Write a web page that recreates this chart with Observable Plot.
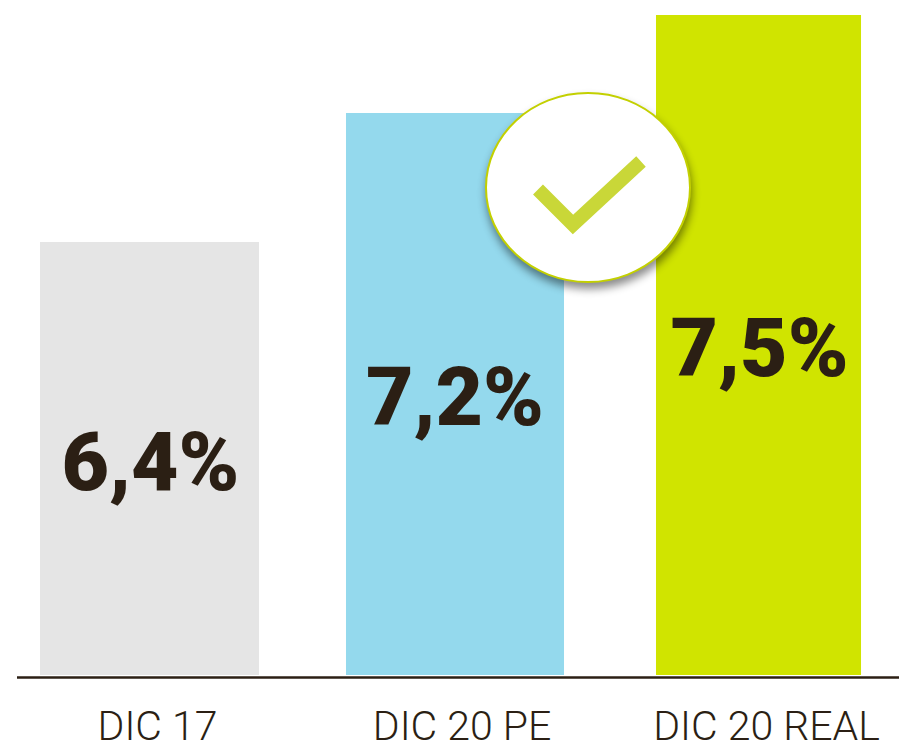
<!DOCTYPE html>
<html>
<head>
<meta charset="utf-8">
<script src="https://cdn.jsdelivr.net/npm/d3@7"></script>
<script src="https://cdn.jsdelivr.net/npm/@observablehq/plot@0.6"></script>
<style>
  html, body { margin: 0; padding: 0; background: #fff; }
  svg { display: block; }
  .badge { filter: drop-shadow(1px 6px 4px rgba(0,0,0,.45)); }
</style>
</head>
<body>
<div id="chart"></div>
<script>
const categories = ["DIC 17", "DIC 20 PE", "DIC 20 REAL"];
const values = [6.4, 7.2, 7.5];
const valueLabels = ["6,4%", "7,2%", "7,5%"];
const barColors = ["#e5e5e5", "#94d9ed", "#d0e400"];
// Height on the value axis where each label sits inside its bar
const labelHeights = [3.13, 4.09, 4.82];

const ink = "#2b1f14";
const rows = categories.map((c, i) => ({
  category: c, value: values[i], label: valueLabels[i],
  color: barColors[i], labelAt: labelHeights[i]
}));

// Filled ellipse and tick glyphs for the badge
function ellipseSymbol(rx, ry) {
  const k = 0.5523;
  return { draw(c) {
    c.moveTo(-rx, 0);
    c.bezierCurveTo(-rx, -k*ry, -k*rx, -ry, 0, -ry);
    c.bezierCurveTo(k*rx, -ry, rx, -k*ry, rx, 0);
    c.bezierCurveTo(rx, k*ry, k*rx, ry, 0, ry);
    c.bezierCurveTo(-k*rx, ry, -rx, k*ry, -rx, 0);
    c.closePath();
  }};
}
const tickSymbol = { draw(c) {
  c.moveTo(-50, 2); c.lineTo(-15, 37); c.lineTo(53, -26);
}};
const badgeAt = [{ category: "DIC 20 PE", value: 7.2 }];
const badgeOffset = { dx: 133, dy: 74 };

const chart = Plot.plot({
  width: 899,
  height: 750,
  marginTop: 0,
  marginRight: 0,
  marginBottom: 75,
  marginLeft: 17,
  style: { background: "#fff", overflow: "hidden" },
  x: { type: "band", domain: categories, range: [-45.5, 954.5], padding: 0.284, round: false, axis: null },
  y: { type: "linear", domain: [0, 6.4, 7.2, 7.5], range: [675, 242, 113, 15], axis: null },
  marks: [
    Plot.barY(rows.slice(0, 1), { x: "category", y: "value", fill: "color", insetLeft: -1 }),
    Plot.barY(rows.slice(1, 2), { x: "category", y: "value", fill: "color", dx: 0.5 }),
    Plot.barY(rows.slice(2), { x: "category", y: "value", fill: "color", insetLeft: 6, insetRight: 7 }),
    Plot.ruleY([0], { dy: 2, stroke: ink, strokeWidth: 2.6 }),
    Plot.axisX({
      anchor: "bottom", tickSize: 0, tickPadding: 35, dx: 7, label: null,
      fontSize: 41, fontWeight: 300, fontFamily: "Roboto", fill: ink
    }),
    Plot.text(rows, {
      x: "category", y: "labelAt", text: "label", fill: ink,
      fontSize: 82, fontWeight: 900, fontFamily: "Roboto", lineAnchor: "middle"
    }),
    Plot.dot(badgeAt, {
      x: "category", y: "value", ...badgeOffset, symbol: ellipseSymbol(102, 94.5),
      fill: "#fff", stroke: "#c3d000", strokeWidth: 2, className: "badge"
    }),
    Plot.dot(badgeAt, {
      x: "category", y: "value", ...badgeOffset, symbol: tickSymbol,
      fill: "none", stroke: "#c9d738", strokeWidth: 14
    })
  ]
});
document.getElementById("chart").appendChild(chart);
</script>
</body>
</html>
